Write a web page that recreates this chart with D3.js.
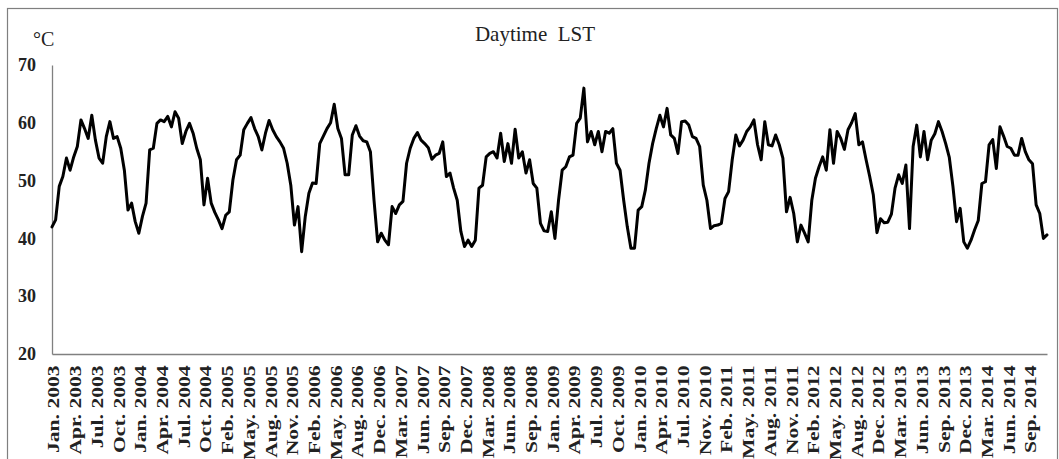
<!DOCTYPE html>
<html>
<head>
<meta charset="utf-8">
<script src="https://cdn.jsdelivr.net/npm/d3@7"></script>
<style>
  html, body { margin: 0; padding: 0; background: #fff; }
  svg { display: block; }
  text { font-family: "Liberation Serif", "Times New Roman", serif; fill: #222; }
</style>
</head>
<body>
<svg id="chart" width="1059" height="459"></svg>
<script>
// Daytime land surface temperature, 16-day composites (23 per year), 2003–2014
const lstValues = [
  42.0, 43.2, 49.0, 50.7, 53.9, 51.8, 54.1, 55.9, 60.5, 59.0, 57.3, 61.3, 57.0, 53.9, 53.0, 57.6, 60.2, 57.3, 57.6, 55.6, 51.8, 44.9, 46.1,
  42.9, 40.9, 43.8, 46.1, 55.3, 55.6, 59.9, 60.5, 60.2, 61.1, 59.3, 61.9, 60.8, 56.4, 58.5, 59.9, 58.2, 55.6, 53.6, 45.8, 50.4, 46.1, 44.5, 43.2,
  41.7, 44.0, 44.6, 50.1, 53.6, 54.4, 58.8, 59.9, 60.9, 59.0, 57.6, 55.3, 58.2, 60.4, 58.8, 57.6, 56.7, 55.6, 53.0, 49.2, 42.3, 45.5, 37.7,
  43.8, 47.8, 49.6, 49.5, 56.4, 57.7, 59.0, 60.0, 63.2, 59.0, 57.3, 51.0, 51.0, 57.9, 59.5, 57.7, 56.9, 56.7, 55.0, 46.6, 39.4, 40.9, 39.7,
  38.9, 45.5, 44.3, 45.8, 46.4, 53.0, 55.6, 57.3, 58.3, 57.0, 56.4, 55.7, 53.7, 54.4, 54.7, 56.7, 50.7, 51.3, 48.7, 46.6, 41.2, 38.6, 39.7,
  38.6, 39.7, 48.7, 49.2, 54.1, 54.7, 55.0, 53.9, 58.2, 53.3, 56.4, 53.0, 58.9, 53.9, 55.0, 51.3, 53.6, 49.5, 48.7, 42.6, 41.3, 41.2, 44.6,
  40.0, 46.6, 51.8, 52.4, 54.1, 54.4, 59.9, 60.8, 66.0, 56.7, 58.5, 56.2, 58.5, 55.0, 58.5, 58.2, 59.0, 53.0, 51.8, 46.6, 42.0, 38.3, 38.3,
  44.9, 45.5, 48.4, 53.0, 56.4, 59.0, 61.3, 59.3, 62.5, 57.9, 57.3, 54.7, 60.2, 60.3, 59.6, 57.6, 57.3, 55.9, 49.2, 46.6, 41.7, 42.2, 42.3,
  42.6, 46.9, 48.1, 53.6, 57.9, 56.0, 57.0, 58.5, 59.3, 60.5, 56.2, 53.6, 60.2, 56.2, 56.0, 57.9, 56.2, 53.9, 44.6, 47.1, 44.3, 39.4, 42.3,
  40.9, 39.4, 46.6, 50.4, 52.4, 54.1, 51.8, 58.8, 53.0, 58.5, 57.3, 55.4, 58.8, 60.0, 61.6, 56.2, 56.7, 53.6, 50.7, 47.5, 41.0, 43.4, 42.7,
  42.8, 44.2, 48.7, 51.0, 49.5, 52.7, 41.7, 55.9, 59.6, 54.1, 58.5, 53.6, 57.0, 58.1, 60.2, 58.5, 56.4, 54.0, 49.0, 42.9, 45.2, 39.4, 38.3,
  39.7, 41.5, 43.1, 49.5, 49.8, 56.2, 57.1, 52.1, 59.3, 57.7, 55.9, 55.6, 54.4, 54.4, 57.3, 55.0, 53.6, 52.9, 45.8, 44.3, 40.0, 40.6
];

// A label is shown on every sixth composite period
const labelStep = 6;
const periodLabels = [
  "Jan. 2003", "Apr. 2003", "Jul. 2003", "Oct. 2003",
  "Jan. 2004", "Apr. 2004", "Jul. 2004", "Oct. 2004",
  "Feb. 2005", "May. 2005", "Aug. 2005", "Nov. 2005",
  "Feb. 2006", "May. 2006", "Aug. 2006", "Dec. 2006",
  "Mar. 2007", "Jun. 2007", "Sep. 2007", "Dec. 2007",
  "Mar. 2008", "Jun. 2008", "Sep. 2008",
  "Jan. 2009", "Apr. 2009", "Jul. 2009", "Oct. 2009",
  "Jan. 2010", "Apr. 2010", "Jul. 2010", "Nov. 2010",
  "Feb. 2011", "May. 2011", "Aug. 2011", "Nov. 2011",
  "Feb. 2012", "May. 2012", "Aug. 2012", "Dec. 2012",
  "Mar. 2013", "Jun. 2013", "Sep. 2013", "Dec. 2013",
  "Mar. 2014", "Jun. 2014", "Sep. 2014"
];

const yTicks = [20, 30, 40, 50, 60, 70];
const chartTitle = "Daytime  LST";
const unitLabel = "\u00B0C";

const svg = d3.select("#chart");

// outer frame
svg.append("rect")
  .attr("x", 7.5).attr("y", 8.5)
  .attr("width", 1050).attr("height", 460)
  .attr("fill", "none").attr("stroke", "#7f7f7f").attr("stroke-width", 1.2);

const plot = { left: 52, right: 1047, top: 65, bottom: 354 };

const x = d3.scaleLinear()
  .domain([0, lstValues.length - 1])
  .range([plot.left, plot.right]);

const y = d3.scaleLinear()
  .domain([20, 70])
  .range([plot.bottom, plot.top]);

// y axis
const yAxis = svg.append("g")
  .attr("transform", `translate(${plot.left},0)`)
  .call(d3.axisLeft(y).tickValues(yTicks).tickSize(0).tickPadding(16).tickFormat(d3.format("d")));
yAxis.select(".domain").attr("stroke", "#808080").attr("stroke-width", 1.3);
yAxis.selectAll("text")
  .attr("font-size", 18).attr("font-weight", "bold")
  .style("font-family", '"Liberation Serif", serif').attr("fill", "#222");

// x axis, labels rotated to read upwards
const tickIdx = periodLabels.map((_, k) => k * labelStep);
const xAxis = svg.append("g")
  .attr("transform", `translate(0,${plot.bottom})`)
  .call(d3.axisBottom(x).tickValues(tickIdx).tickSize(0)
    .tickFormat((d) => periodLabels[d / labelStep]));
xAxis.select(".domain").attr("stroke", "#808080").attr("stroke-width", 1.3);
xAxis.selectAll("text")
  .attr("font-size", 17).attr("font-weight", "bold")
  .style("font-family", '"Liberation Serif", serif').attr("fill", "#222")
  .attr("text-anchor", "end")
  .attr("transform", "rotate(-90) scale(1.27,1)")
  .attr("x", -9).attr("y", 1).attr("dy", "0.35em");

// the temperature series
const line = d3.line()
  .x((d, i) => x(i))
  .y((d) => y(d));

svg.append("path")
  .datum(lstValues)
  .attr("d", line)
  .attr("fill", "none")
  .attr("stroke", "#000")
  .attr("stroke-width", 3)
  .attr("stroke-linejoin", "round")
  .attr("stroke-linecap", "round");

// title and unit
svg.append("text")
  .attr("x", 535).attr("y", 41)
  .attr("text-anchor", "middle")
  .attr("font-size", 21)
  .attr("xml:space", "preserve")
  .style("white-space", "pre")
  .text(chartTitle);

svg.append("text")
  .attr("x", 33).attr("y", 46)
  .attr("font-size", 20)
  .text(unitLabel);
</script>
</body>
</html>
